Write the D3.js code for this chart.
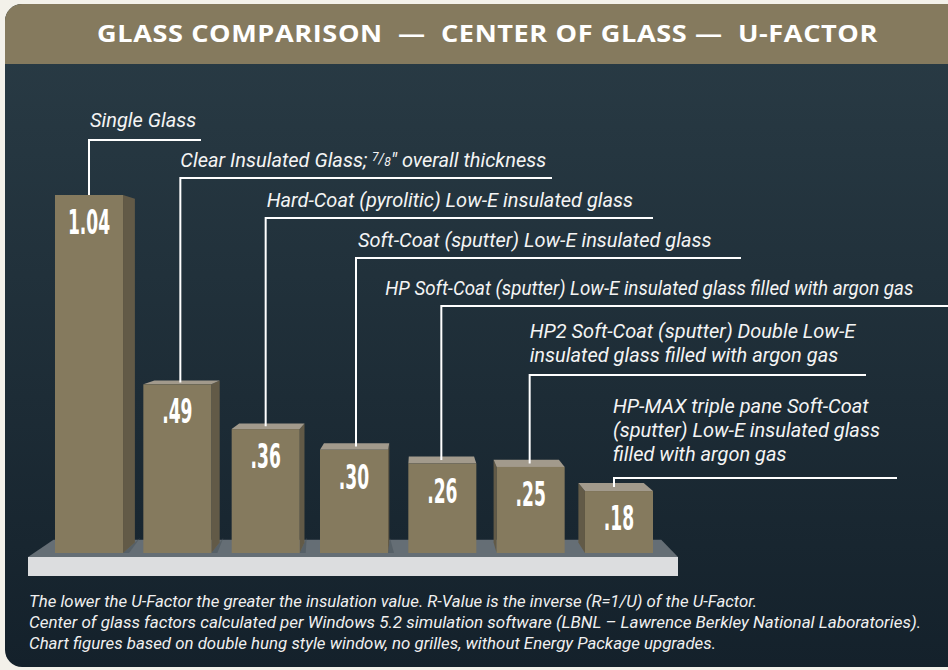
<!DOCTYPE html>
<html>
<head>
<meta charset="utf-8">
<script src="https://cdn.jsdelivr.net/npm/d3@7"></script>
<style>
  body { margin: 0; background: #f3f1ea; }
  svg { display: block; }
</style>
</head>
<body>
<div id="chart"></div>
<script>
// --- data ---
var categories = [
  "Single Glass",
  "Clear Insulated Glass",
  "Hard-Coat Low-E",
  "Soft-Coat Low-E",
  "HP Soft-Coat",
  "HP2 Soft-Coat",
  "HP-MAX"
];
var uFactors = [1.04, 0.49, 0.36, 0.30, 0.26, 0.25, 0.18];
var valueLabels = ["1.04", ".49", ".36", ".30", ".26", ".25", ".18"];
var labelLines = [
  ["Single Glass"],
  ["Clear Insulated Glass; ", "overall thickness"],
  ["Hard-Coat (pyrolitic) Low-E insulated glass"],
  ["Soft-Coat (sputter) Low-E insulated glass"],
  ["HP Soft-Coat (sputter) Low-E insulated glass filled with argon gas"],
  ["HP2 Soft-Coat (sputter) Double Low-E", "insulated glass filled with argon gas"],
  ["HP-MAX triple pane Soft-Coat", "(sputter) Low-E insulated glass", "filled with argon gas"]
];
var notes = [
  "The lower the U-Factor the greater the insulation value. R-Value is the inverse (R=1/U) of the U-Factor.",
  "Center of glass factors calculated per Windows 5.2 simulation software (LBNL \u2013 Lawrence Berkley National Laboratories).",
  "Chart figures based on double hung style window, no grilles, without Energy Package upgrades."
];
var title = "GLASS COMPARISON  \u2014  CENTER OF GLASS \u2014  U-FACTOR";

// --- layout (callout placement) ---
var leaderDx = [0, 3, 0, 2, -1, -1, -5];
var labelDx = [1, 0, 1, 2, -56, 0, -1];
var labelY = [127, 167, 207, 247, 295, 338, 413];
var leaderY = [140, 178, 218, 258, 306, 375, 478];
var leaderEnd = [201, 552, 653, 741, 960, 866, 897];

var W = 948, H = 670;
var tan = "#857a5e", side = "#625a47", topFace = "#a29a8c";

var svg = d3.select("#chart").append("svg")
  .attr("width", W).attr("height", H);

var defs = svg.append("defs");
var grad = defs.append("linearGradient").attr("id", "bg")
  .attr("x1", 0).attr("y1", 0).attr("x2", 0).attr("y2", 1);
grad.append("stop").attr("offset", "0%").attr("stop-color", "#2a3c46");
grad.append("stop").attr("offset", "100%").attr("stop-color", "#14212b");

// card with rounded left corners, running off the right edge
var r = 17, cx0 = 5, cy0 = 4, cy1 = 667, hy = 64;
svg.append("path")
  .attr("d", "M" + (cx0 + r) + "," + cy0 + "H" + (W + 20) + "V" + cy1 + "H" + (cx0 + r) +
    "A" + r + "," + r + " 0 0 1 " + cx0 + "," + (cy1 - r) + "V" + (cy0 + r) +
    "A" + r + "," + r + " 0 0 1 " + (cx0 + r) + "," + cy0 + "Z")
  .attr("fill", "url(#bg)");
svg.append("path")
  .attr("d", "M" + (cx0 + r) + "," + cy0 + "H" + (W + 20) + "V" + hy + "H" + cx0 + "V" + (cy0 + r) +
    "A" + r + "," + r + " 0 0 1 " + (cx0 + r) + "," + cy0 + "Z")
  .attr("fill", tan);

svg.append("text")
  .attr("x", 487.5).attr("y", 42)
  .attr("text-anchor", "middle")
  .attr("textLength", 781).attr("lengthAdjust", "spacingAndGlyphs")
  .style("font-family", "'Open Sans', sans-serif")
  .style("font-weight", 700).style("font-size", "22.5px")
  .style("letter-spacing", "0.5px")
  .attr("fill", "#fff")
  .attr("xml:space", "preserve")
  .text(title);

// --- scales ---
var x = d3.scaleBand().domain(categories).range([55, 653]).paddingInner(0.23).paddingOuter(0);
var base = 553;
var y = d3.scaleLinear().domain([0, 1.04]).range([base, 195]);

// one-point perspective for the 3D boxes
var vp = [420, 290];
function back(p, k) { return [p[0] + (vp[0] - p[0]) * k, p[1] + (vp[1] - p[1]) * k]; }
function poly(pts) { return "M" + pts.map(function(p){ return p.join(","); }).join("L") + "Z"; }

// platform
var px0 = 28, px1 = 678, py = 557, slabH = 19, pk = 0.065;
svg.append("path")
  .attr("d", poly([[px0, py], [px1, py], back([px1, py], pk), back([px0, py], pk)]))
  .attr("fill", "#656e75");
svg.append("rect")
  .attr("x", px0).attr("y", py).attr("width", px1 - px0).attr("height", slabH)
  .attr("fill", "#dcdddf");

var bk = 0.04;
var bars = svg.selectAll(".bar").data(uFactors).enter().append("g").attr("class", "bar");

bars.each(function(d, i) {
  var g = d3.select(this);
  var x0 = x(categories[i]), x1 = x0 + x.bandwidth(), yt = y(d), yb = base;
  if (x1 < vp[0]) {
    g.append("path").attr("d", poly([[x1, yb], back([x1, yb], bk), back([x1, yb], pk * 0.9), [x1 + 6, yb]]))
      .attr("fill", "#4d565d").attr("opacity", 0.6);
    g.append("path").attr("d", poly([[x1, yt], back([x1, yt], bk), back([x1, yb], bk), [x1, yb]]))
      .attr("fill", side);
  } else if (x0 > vp[0]) {
    g.append("path").attr("d", poly([[x0, yt], back([x0, yt], bk), back([x0, yb], bk), [x0, yb]]))
      .attr("fill", side);
  }
  if (yt > vp[1]) {
    g.append("path").attr("d", poly([[x0, yt], [x1, yt], back([x1, yt], bk), back([x0, yt], bk)]))
      .attr("fill", topFace);
  }
  g.append("rect").attr("x", x0).attr("y", yt).attr("width", x1 - x0).attr("height", yb - yt)
    .attr("fill", tan);
  var cxm = x0 + x.bandwidth() / 2;
  g.append("text")
    .attr("transform", "translate(" + cxm + "," + (yt + 39) + ") scale(0.56,1)")
    .attr("text-anchor", "middle")
    .style("font-family", "'Liberation Sans Narrow', 'DejaVu Sans Condensed', sans-serif")
    .style("font-size", "34px").style("font-weight", 700)
    .attr("fill", "#fff")
    .text(valueLabels[i]);
});

// --- callouts ---
var lblFont = "Roboto, 'Noto Sans', sans-serif";
categories.forEach(function(c, i) {
  var cxm = x(c) + x.bandwidth() / 2 + leaderDx[i];
  var yt = y(uFactors[i]);
  var topY = yt > vp[1] ? yt - (yt - vp[1]) * bk / 2 : yt;
  svg.append("path")
    .attr("d", "M" + leaderEnd[i] + "," + leaderY[i] + "H" + cxm + "V" + topY)
    .attr("fill", "none").attr("stroke", "#fff").attr("stroke-width", 2);

  var lx = cxm + labelDx[i];
  var t = svg.append("text")
    .attr("x", lx).attr("y", labelY[i])
    .style("font-family", lblFont).style("font-style", "italic")
    .style("font-size", "20px").attr("fill", "#f4f4f4");
  if (i === 1) {
    t.append("tspan").text(labelLines[i][0]);
    t.append("tspan").attr("dy", -6).style("font-size", "12px").text("7");
    t.append("tspan").attr("dy", 3).style("font-size", "14px").text("/");
    t.append("tspan").attr("dy", 2).style("font-size", "12px").text("8");
    t.append("tspan").attr("dy", 1).text("\u2033 " + labelLines[i][1]);
  } else {
    labelLines[i].forEach(function(l, j) {
      var s = t.append("tspan").attr("x", lx).attr("dy", j ? 24 : 0).text(l);
      if (i === 4) s.attr("textLength", 528).attr("lengthAdjust", "spacingAndGlyphs");
    });
  }
});

// --- footnotes ---
var noteLen = [728, 892, 687];
svg.selectAll(".note").data(notes).enter().append("text")
  .attr("class", "note")
  .attr("x", 29).attr("y", function(d, i) { return 607 + i * 21; })
  .attr("textLength", function(d, i) { return noteLen[i]; })
  .attr("lengthAdjust", "spacingAndGlyphs")
  .style("font-family", lblFont).style("font-style", "italic")
  .style("font-size", "17px").attr("fill", "#f0f0f0")
  .text(function(d) { return d; });
</script>
</body>
</html>
